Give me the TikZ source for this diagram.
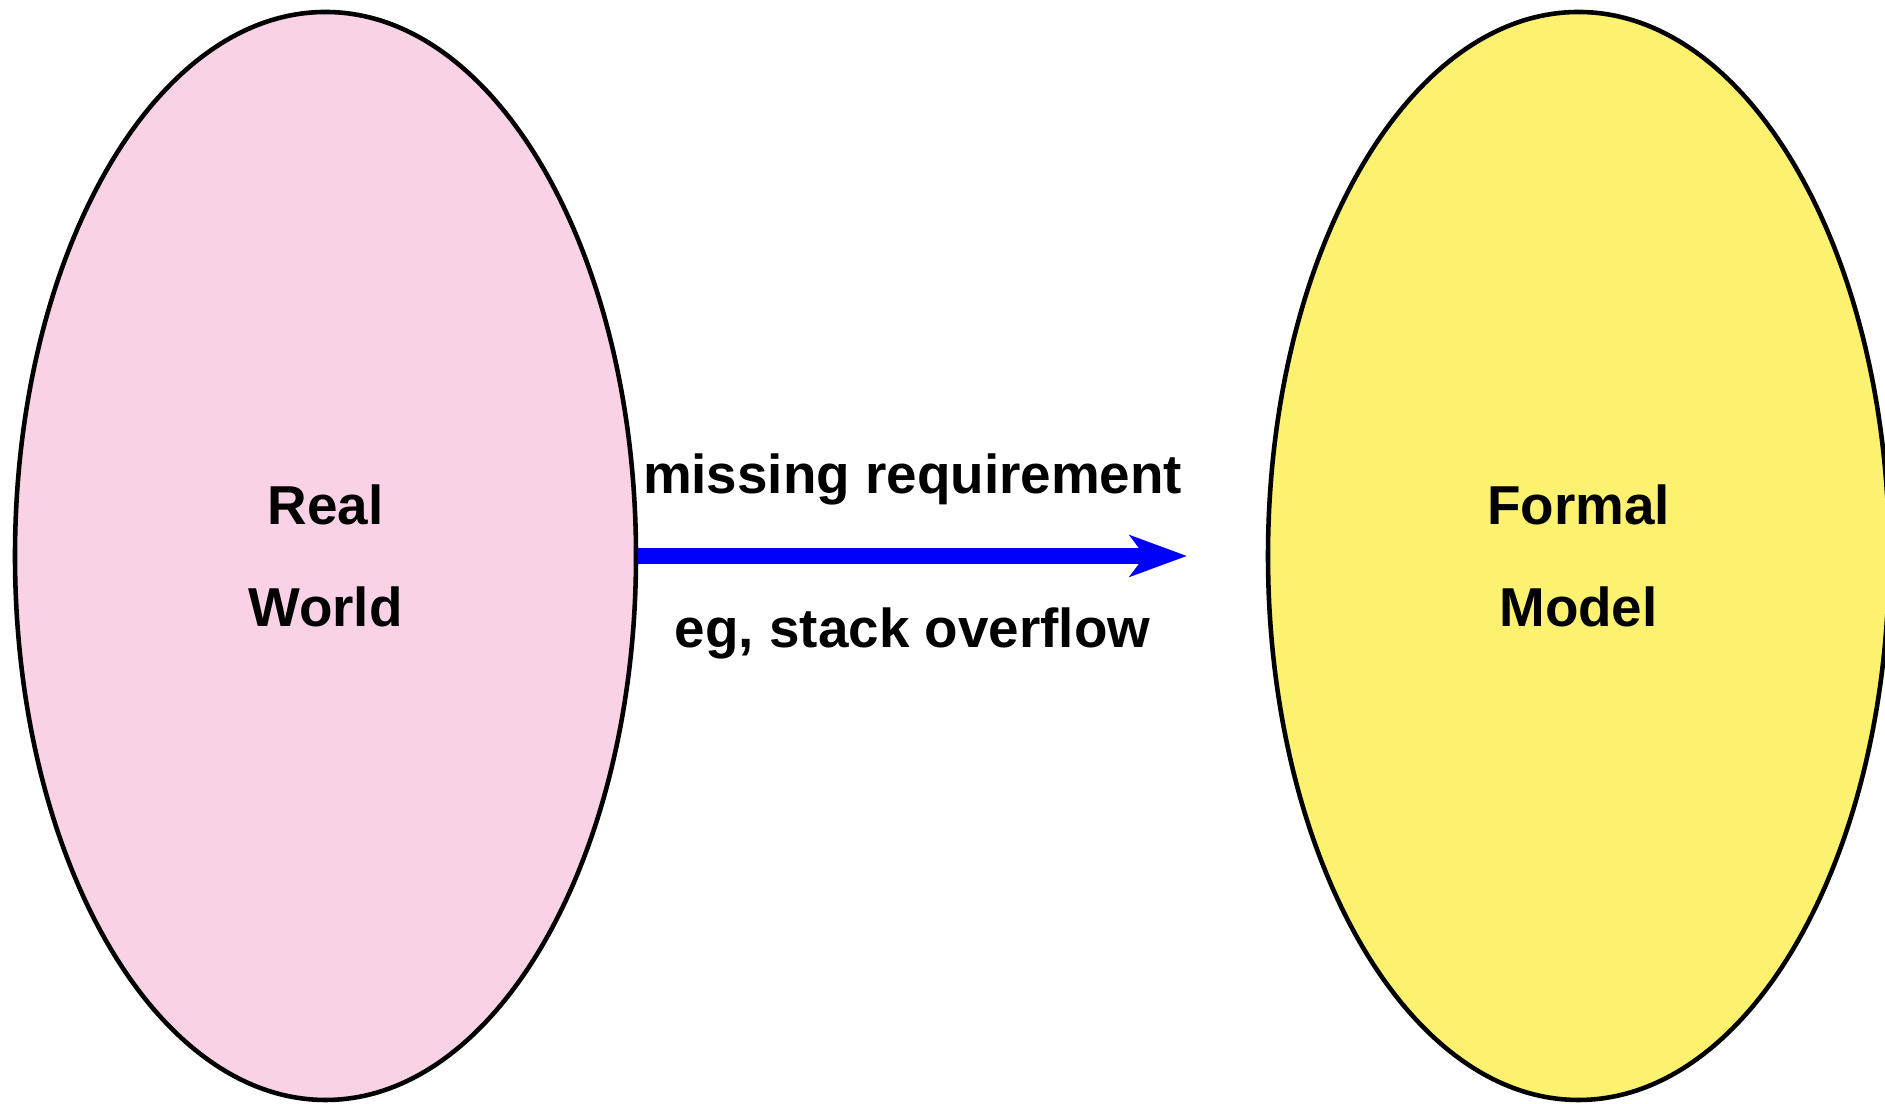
\documentclass[tikz,border=0pt]{standalone}
\usepackage{fontspec}
\setmainfont{Liberation Sans}
\usetikzlibrary{shapes.geometric,arrows.meta}
\definecolor{worldpink}{RGB}{249,211,229}
\definecolor{modelyellow}{RGB}{253,242,112}

\begin{document}
\begin{tikzpicture}[
  every node/.style={font=\fontsize{15.6pt}{29pt}\selectfont\bfseries},
  blob/.style={ellipse,draw=black,line width=1.3pt,minimum width=6.21cm,minimum height=10.88cm,align=center,inner sep=0pt},
  gap/.style={draw=blue,line width=4.6pt,-{Stealth[length=5.7mm,width=4.1mm,inset=1.5mm]}}
]
  \useasboundingbox (0,0) rectangle (18.85,11.04);
  \node[blob,fill=worldpink] (real) at (3.255,5.48) {Real\\World};
  \node[blob,fill=modelyellow] (formal) at (15.785,5.48) {Formal\\Model};
  \coordinate (tip) at (11.87,5.48);
  \draw[gap] (real.east) -- (tip)
    node[midway,anchor=base,yshift=6.2mm] {missing requirement}
    node[midway,anchor=base,yshift=-9.2mm] {eg, stack overflow};
\end{tikzpicture}
\end{document}
